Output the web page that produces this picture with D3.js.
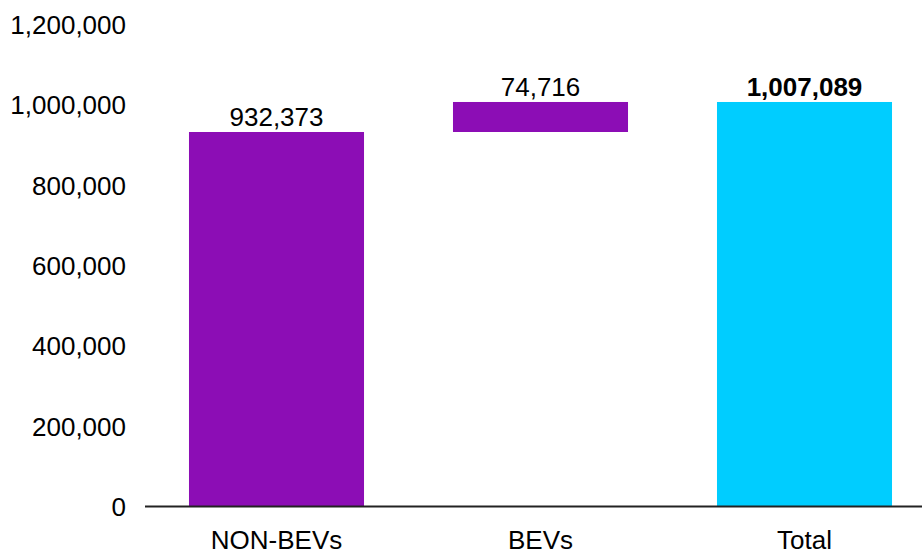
<!DOCTYPE html>
<html>
<head>
<meta charset="utf-8">
<script src="https://cdn.jsdelivr.net/npm/d3@7"></script>
<style>
  html, body { margin: 0; padding: 0; background: #fff; }
  svg { display: block; font-family: "Liberation Sans", Arial, sans-serif; }
</style>
</head>
<body>
<svg id="chart" width="922" height="550"></svg>
<script>
// Waterfall: non-BEV sales, BEV sales stacked on top, and the total
const categories = ["NON-BEVs", "BEVs", "Total"];
const values = [932373, 74716, 1007089];
const kinds = ["step", "step", "total"];
const yTicks = [0, 200000, 400000, 600000, 800000, 1000000, 1200000];

const colors = { step: "#8c0db5", total: "#00cdff" };

// running start/end of each bar
let running = 0;
const bars = categories.map((c, i) => {
  let start, end;
  if (kinds[i] === "total") { start = 0; end = values[i]; }
  else { start = running; end = running + values[i]; running = end; }
  return { cat: c, value: values[i], kind: kinds[i], start, end };
});

const svg = d3.select("#chart");

const x = d3.scaleBand()
  .domain(categories)
  .range([144.5, 936.5])
  .paddingInner(0.337)
  .paddingOuter(0.1685);

const y = d3.scaleLinear()
  .domain([0, 1200000])
  .range([506.5, 24.5]);

const fmt = d3.format(",");

// y axis labels (no line, no tick marks)
const yAxis = d3.axisLeft(y).tickValues(yTicks).tickFormat(fmt).tickSize(0).tickPadding(0);
const yg = svg.append("g").attr("transform", "translate(126,0)").call(yAxis);
yg.select(".domain").remove();
yg.selectAll("text")
  .attr("font-family", "Liberation Sans, Arial, sans-serif")
  .attr("font-size", 26)
  .attr("fill", "#000")
  .attr("dy", "0.35em");

// bars
svg.append("g").selectAll("rect")
  .data(bars)
  .join("rect")
  .attr("x", d => x(d.cat))
  .attr("width", x.bandwidth())
  .attr("y", d => y(d.end))
  .attr("height", d => y(d.start) - y(d.end))
  .attr("fill", d => colors[d.kind]);

// baseline
svg.append("line")
  .attr("x1", 145).attr("x2", 922)
  .attr("y1", y(0)).attr("y2", y(0))
  .attr("stroke", "#222").attr("stroke-width", 2);

// category labels
const xAxis = d3.axisBottom(x).tickSize(0).tickPadding(0);
const xg = svg.append("g").attr("transform", `translate(0,${y(0)})`).call(xAxis);
xg.select(".domain").remove();
xg.selectAll("text")
  .attr("font-family", "Liberation Sans, Arial, sans-serif")
  .attr("font-size", 26)
  .attr("fill", "#000")
  .attr("dy", null)
  .attr("y", 42);

// value labels
svg.append("g").selectAll("text")
  .data(bars)
  .join("text")
  .attr("x", d => x(d.cat) + x.bandwidth() / 2)
  .attr("y", d => y(d.end) - 6)
  .attr("text-anchor", "middle")
  .attr("font-size", 26)
  .attr("font-weight", d => d.kind === "total" ? "bold" : "normal")
  .attr("fill", "#000")
  .text(d => fmt(d.value));
</script>
</body>
</html>
